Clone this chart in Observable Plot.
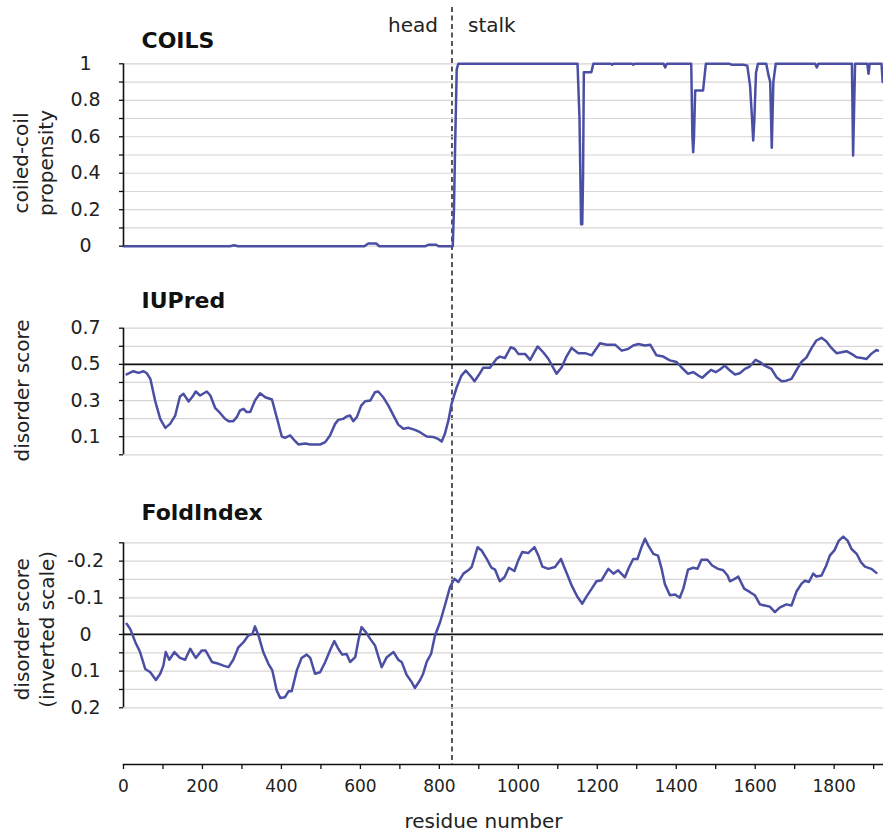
<!DOCTYPE html>
<html><head><meta charset="utf-8">
<script src="https://cdn.jsdelivr.net/npm/d3@7"></script>
<script src="https://cdn.jsdelivr.net/npm/@observablehq/plot@0.6"></script>
<style>
body{margin:0;background:#fff;}
#chart{position:relative;width:883px;height:836px;background:#fff;}
#chart > svg{position:absolute;left:0;}
</style></head><body><div id="chart"></div>
<script>
// ---------- data ----------
const xDomain = [0, 1925];
const boundary = 832; // head / stalk boundary (residue)
const xMinorTicks = [0,100,200,300,400,500,600,700,800,900,1000,1100,1200,1300,1400,1500,1600,1700,1800,1900];
const xLabelTicks = [0,200,400,600,800,1000,1200,1400,1600,1800];

const coilsX = [0,270,280,290,610,620,640,648,765,772,792,798,834,837,840,844,848,
  1150,1155,1159,1162,1164,1166,1185,1190,1235,1238,1241,1288,1291,1294,1368,1372,1376,
  1438,1441,1443,1445,1448,1468,1475,1535,1540,1570,1580,1587,1592,1595,1598,1602,1607,
  1628,1634,1638,1642,1646,1652,1752,1756,1760,1845,1848,1851,1853,1884,1887,1890,1920,1923];
const coilsY = [0,0,0.005,0,0,0.015,0.015,0,0,0.008,0.008,0,0,0.2,0.55,0.97,1,
  1,0.7,0.12,0.12,0.38,0.954,0.954,1,1,0.995,1,1,0.995,1,1,0.98,1,
  1,0.6,0.515,0.6,0.854,0.854,1,1,0.995,0.995,0.99,0.88,0.7,0.58,0.7,0.95,1,
  1,0.935,0.9,0.54,0.9,1,1,0.98,1,1,0.497,0.8,1,1,0.945,1,1,0.9];
const coilsGrid = [0,0.1,0.2,0.3,0.4,0.5,0.6,0.7,0.8,0.9,1];
const coilsLabels = [0,0.2,0.4,0.6,0.8,1];

const iupredX = [8,25,38,51,59,68,80,93,106,118,131,143,152,165,175,183,194,211,220,232,245,257,266,278,287,295,304,312,321,333,346,359,376,388,401,409,422,435,443,460,473,498,511,523,536,544,557,565,574,582,591,602,612,625,637,645,658,671,684,696,709,722,738,751,768,785,797,806,814,823,831,844,856,867,878,889,899,911,928,945,953,966,981,991,1000,1017,1030,1049,1063,1076,1097,1110,1122,1135,1152,1169,1186,1207,1224,1245,1262,1278,1291,1304,1321,1334,1350,1367,1384,1401,1413,1430,1443,1456,1466,1477,1488,1500,1510,1523,1536,1549,1561,1574,1586,1601,1612,1624,1641,1654,1667,1679,1692,1705,1717,1730,1743,1755,1768,1780,1793,1806,1819,1831,1844,1857,1870,1882,1894,1907,1911];
const iupredY = [0.444,0.462,0.453,0.462,0.451,0.42,0.30,0.199,0.149,0.171,0.217,0.322,0.337,0.295,0.322,0.35,0.328,0.35,0.328,0.26,0.23,0.199,0.186,0.186,0.208,0.245,0.254,0.236,0.236,0.30,0.34,0.318,0.306,0.208,0.101,0.094,0.107,0.075,0.057,0.063,0.057,0.057,0.07,0.107,0.171,0.193,0.199,0.212,0.217,0.186,0.208,0.272,0.296,0.30,0.346,0.35,0.318,0.272,0.217,0.167,0.144,0.149,0.138,0.125,0.101,0.098,0.088,0.073,0.116,0.19,0.282,0.374,0.438,0.466,0.438,0.407,0.438,0.481,0.481,0.531,0.543,0.535,0.595,0.585,0.558,0.558,0.525,0.599,0.567,0.531,0.448,0.484,0.543,0.591,0.562,0.562,0.55,0.617,0.609,0.609,0.576,0.585,0.604,0.613,0.604,0.609,0.55,0.543,0.522,0.513,0.484,0.448,0.457,0.438,0.426,0.448,0.47,0.457,0.47,0.493,0.466,0.444,0.451,0.475,0.488,0.525,0.513,0.493,0.475,0.429,0.407,0.41,0.42,0.47,0.513,0.539,0.591,0.632,0.647,0.628,0.591,0.562,0.567,0.573,0.558,0.539,0.535,0.53,0.558,0.58,0.576];
const iupredGrid = [0,0.1,0.2,0.3,0.4,0.5,0.6,0.7];
const iupredLabels = [0.1,0.3,0.5,0.7];
const iupredThreshold = 0.5;

const foldX = [8,17,30,42,55,68,82,93,101,107,116,129,143,156,169,183,198,208,224,241,253,266,278,291,304,316,327,333,342,354,367,377,388,397,409,418,426,439,451,464,473,485,498,511,523,534,544,554,565,574,587,595,603,614,625,637,646,654,667,684,696,705,717,730,738,751,759,768,779,789,802,814,827,838,848,861,873,882,897,907,920,932,941,953,965,976,990,1000,1010,1025,1041,1051,1061,1076,1093,1108,1118,1135,1150,1162,1173,1186,1198,1211,1228,1241,1253,1270,1280,1291,1302,1312,1321,1329,1342,1354,1363,1371,1384,1397,1409,1418,1430,1443,1454,1464,1479,1491,1506,1519,1530,1536,1549,1557,1572,1586,1599,1612,1624,1637,1650,1662,1679,1692,1705,1717,1726,1736,1747,1755,1768,1780,1789,1801,1812,1823,1834,1844,1857,1868,1878,1894,1907];
const foldY = [-0.029,-0.015,0.021,0.048,0.094,0.103,0.124,0.107,0.085,0.048,0.069,0.048,0.064,0.069,0.039,0.064,0.044,0.044,0.075,0.08,0.085,0.089,0.069,0.035,0.021,0.003,-0.002,-0.022,0.003,0.048,0.08,0.098,0.153,0.173,0.171,0.155,0.155,0.098,0.064,0.055,0.064,0.107,0.103,0.075,0.044,0.018,0.039,0.055,0.053,0.075,0.062,0.016,-0.02,-0.006,0.012,0.03,0.062,0.089,0.062,0.048,0.069,0.076,0.11,0.13,0.146,0.125,0.107,0.075,0.053,0.003,-0.034,-0.079,-0.129,-0.152,-0.143,-0.166,-0.175,-0.184,-0.238,-0.229,-0.206,-0.182,-0.177,-0.145,-0.156,-0.182,-0.173,-0.202,-0.225,-0.222,-0.238,-0.215,-0.185,-0.179,-0.184,-0.206,-0.179,-0.134,-0.102,-0.084,-0.104,-0.125,-0.145,-0.148,-0.179,-0.166,-0.175,-0.156,-0.182,-0.206,-0.206,-0.238,-0.261,-0.243,-0.22,-0.215,-0.179,-0.138,-0.107,-0.109,-0.1,-0.125,-0.177,-0.182,-0.179,-0.204,-0.204,-0.188,-0.179,-0.175,-0.161,-0.145,-0.152,-0.158,-0.125,-0.116,-0.107,-0.082,-0.079,-0.076,-0.061,-0.073,-0.082,-0.079,-0.118,-0.138,-0.147,-0.143,-0.166,-0.158,-0.161,-0.188,-0.215,-0.23,-0.256,-0.267,-0.256,-0.233,-0.22,-0.197,-0.185,-0.179,-0.168];
const foldGrid = [-0.25,-0.2,-0.15,-0.1,-0.05,0,0.05,0.1,0.15,0.2];
const foldLabels = [-0.2,-0.1,0,0.1,0.2];
const foldThreshold = 0;

// ---------- styles ----------
const FONT = "DejaVu Sans, Verdana, sans-serif";
const LINE = "#4b4fa3";
const GRID = "#dad4d4";
const W = 883, ML = 123;
const chart = document.getElementById("chart");

function place(svg, top) { svg.style.top = top + "px"; chart.appendChild(svg); }

// base layer: x axis, boundary line, head/stalk labels
const base = Plot.plot({
  width: W, height: 836, marginLeft: ML, marginRight: 0, marginTop: 7, marginBottom: 72,
  style: {fontFamily: FONT, background: "transparent", overflow: "visible", color: "#111"},
  x: {domain: xDomain, axis: null},
  marks: [
    Plot.frame({anchor: "bottom", stroke: "#111", strokeWidth: 1.5}),
    Plot.axisX({ticks: xMinorTicks, tickSize: 5, tickFormat: () => "", label: null, stroke: "#111", strokeWidth: 1.3}),
    Plot.axisX({ticks: xLabelTicks, tickSize: 0, tickPadding: 15, tickFormat: d => String(d), label: null, fontSize: 17, fill: "#222"}),
    Plot.ruleX([boundary], {stroke: "#111", strokeWidth: 1.4, strokeDasharray: "5,3.5"}),
    Plot.text(["head"], {x: boundary, text: d => d, frameAnchor: "top", dy: 18, dx: -14, textAnchor: "end", lineAnchor: "middle", fontSize: 20, fill: "#222"}),
    Plot.text(["stalk"], {x: boundary, text: d => d, frameAnchor: "top", dy: 18, dx: 16, textAnchor: "start", lineAnchor: "middle", fontSize: 20, fill: "#222"}),
    Plot.text(["residue number"], {text: d => d, frameAnchor: "bottom", dy: 57, dx: -20, textAnchor: "middle", lineAnchor: "middle", fontSize: 20, fill: "#222"})
  ]
});
place(base, 0);

function panel(o) {
  const data = o.xs.map((x, i) => ({x, y: o.ys[i]}));
  const marks = [
    Plot.ruleY(o.grid, {stroke: GRID, strokeWidth: 1.2}),
  ];
  if (o.ref !== undefined) marks.push(Plot.ruleY([o.ref], {stroke: "#111", strokeWidth: 1.8}));
  marks.push(
    Plot.line(data, {x: "x", y: "y", stroke: LINE, strokeWidth: 2.5, strokeLinejoin: "round"}),
    Plot.ruleX([0], {stroke: "#111", strokeWidth: 1.6}),
    Plot.axisY({ticks: o.grid, tickSize: 4, tickFormat: () => "", label: null, stroke: "#111", strokeWidth: 1.3}),
    Plot.axisY({ticks: o.labels, tickSize: 0, tickPadding: 38, textAnchor: "middle", tickFormat: d => String(d), label: null, fontSize: 19, fill: "#222"}),
    Plot.text([o.title], {text: d => d, frameAnchor: "top-left", dx: 18, dy: o.titleDy, textAnchor: "start", lineAnchor: "middle", fontWeight: "bold", fontSize: 22, fill: "#111"}),
    Plot.text([o.ylabel], {text: d => d, frameAnchor: "left", dx: o.labelDx, dy: o.labelDy, rotate: -90, textAnchor: "middle", lineAnchor: "middle", fontSize: 20, lineHeight: 1.25, fill: "#222"})
  );
  const svg = Plot.plot({
    width: W, height: o.height, marginLeft: ML, marginRight: 0, marginTop: o.mt, marginBottom: o.mb,
    style: {fontFamily: FONT, background: "transparent", overflow: "visible", color: "#111"},
    x: {domain: xDomain, axis: null},
    y: {domain: o.domain, axis: null},
    marks
  });
  place(svg, o.top);
}

panel({top: 0, height: 260, mt: 63.3, mb: 14.3, domain: [0, 1],
  xs: coilsX, ys: coilsY, grid: coilsGrid, labels: coilsLabels,
  title: "COILS", titleDy: -23, ylabel: "coiled-coil\npropensity", labelDx: -91, labelDy: 8});

panel({top: 270, height: 200, mt: 57.7, mb: 15.7, domain: [0, 0.7],
  xs: iupredX, ys: iupredY, grid: iupredGrid, labels: iupredLabels, ref: iupredThreshold,
  title: "IUPred", titleDy: -27, ylabel: "disorder score", labelDx: -103, labelDy: -1});

panel({top: 480, height: 240, mt: 62.3, mb: 12.7, domain: [0.2, -0.25],
  xs: foldX, ys: foldY, grid: foldGrid, labels: foldLabels, ref: foldThreshold,
  title: "FoldIndex", titleDy: -30, ylabel: "disorder score\n(inverted scale)", labelDx: -90, labelDy: 4});
</script></body></html>
